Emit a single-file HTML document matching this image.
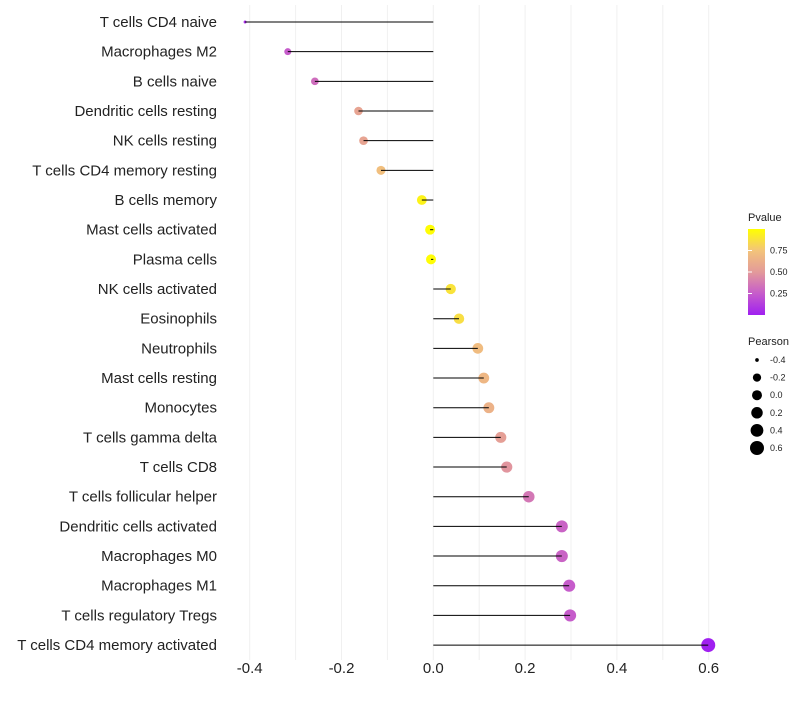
<!DOCTYPE html>
<html><head><meta charset="utf-8"><style>
body{margin:0;background:#fff;font-family:"Liberation Sans",sans-serif}
</style></head><body>
<svg id="chart" width="800" height="700">
<defs><linearGradient id="pg" x1="0" y1="1" x2="0" y2="0">
<stop offset="0" stop-color="#a020f0"/><stop offset="0.25" stop-color="#c65ccb"/><stop offset="0.5" stop-color="#e39a9a"/><stop offset="0.75" stop-color="#f3c47a"/><stop offset="1" stop-color="#ffff00"/>
</linearGradient></defs>
<g id="grid"></g><g id="marks"></g><g id="labels"></g><g id="legend"></g>
</svg>
<script>
const categories=["T cells CD4 naive","Macrophages M2","B cells naive","Dendritic cells resting","NK cells resting","T cells CD4 memory resting","B cells memory","Mast cells activated","Plasma cells","NK cells activated","Eosinophils","Neutrophils","Mast cells resting","Monocytes","T cells gamma delta","T cells CD8","T cells follicular helper","Dendritic cells activated","Macrophages M0","Macrophages M1","T cells regulatory  Tregs","T cells CD4 memory activated"];
const pearson=[-0.41,-0.317,-0.258,-0.163,-0.152,-0.114,-0.025,-0.007,-0.005,0.038,0.056,0.097,0.11,0.121,0.147,0.16,0.208,0.28,0.28,0.296,0.298,0.599];
const pvalue=[0.05,0.25,0.32,0.56,0.56,0.72,0.95,0.99,0.99,0.88,0.86,0.7,0.67,0.64,0.53,0.48,0.36,0.28,0.28,0.25,0.25,0.001];
const xTicks=[-0.4,-0.2,0,0.2,0.4,0.6];
const pTicks=[0.25,0.5,0.75];
const sizeTicks=[-0.4,-0.2,0,0.2,0.4,0.6];
const NS="http://www.w3.org/2000/svg";
const x=v=>433.3+v*459;
const y=i=>22+i*29.67;
const rad=v=>{const a=v<-0.317?12.3+(v+0.317)*108:25+40*v;return Math.sqrt(Math.max(2.2,a));};
const stops=[[0,[160,32,240]],[0.25,[198,92,203]],[0.5,[227,154,154]],[0.75,[243,196,122]],[1,[255,255,0]]];
function col(p){for(let k=0;k<stops.length-1;k++){const[a,ca]=stops[k],[b,cb]=stops[k+1];if(p<=b){const t=(p-a)/(b-a);return`rgb(${ca.map((c,j)=>Math.round(c+(cb[j]-c)*t)).join(",")})`;}}return"rgb(255,255,0)";}
function mk(tag,attrs,parent,text){const e=document.createElementNS(NS,tag);for(const k in attrs)e.setAttribute(k,attrs[k]);if(text!==undefined)e.textContent=text;document.getElementById(parent).appendChild(e);return e;}
for(let v=-0.4;v<=0.61;v+=0.1){const g=mk("line",{x1:x(v),x2:x(v),y1:5,y2:660,stroke:"#f0f0f0","stroke-width":1},"grid");

}
xTicks.forEach(t=>{const e=mk("text",{x:x(t),y:673,"text-anchor":"middle","font-size":15,fill:"#222"},"labels",t.toFixed(1));

});
categories.forEach((c,i)=>{
const t=mk("text",{x:217,y:y(i)+5,"text-anchor":"end","font-size":15,fill:"#222"},"labels",c);


const d=mk("circle",{cx:x(pearson[i]),cy:y(i),r:rad(pearson[i]),fill:col(pvalue[i])},"marks");


const l=mk("line",{x1:x(0),x2:x(pearson[i]),y1:y(i),y2:y(i),stroke:"#000","stroke-width":1},"marks");


});
let e=mk("text",{x:748,y:221,"font-size":11,fill:"#222"},"legend","Pvalue");


e=mk("rect",{x:748,y:229,width:17,height:86,fill:"url(#pg)"},"legend");


pTicks.forEach(p=>{const yy=315-p*86;
const tk=mk("line",{x1:748,x2:752,y1:yy,y2:yy,stroke:"#fff"},"legend");


const t=mk("text",{x:770,y:yy+3,"font-size":9,fill:"#222"},"legend",p.toFixed(2));

});
e=mk("text",{x:748,y:345,"font-size":11,fill:"#222"},"legend","Pearson");


sizeTicks.forEach((s,k)=>{const yy=360+k*17.6;
const c=mk("circle",{cx:757,cy:yy,r:rad(s),fill:"#000"},"legend");


const t=mk("text",{x:770,y:yy+3,"font-size":9,fill:"#222"},"legend",s.toFixed(1));

});
</script>
</body></html>
